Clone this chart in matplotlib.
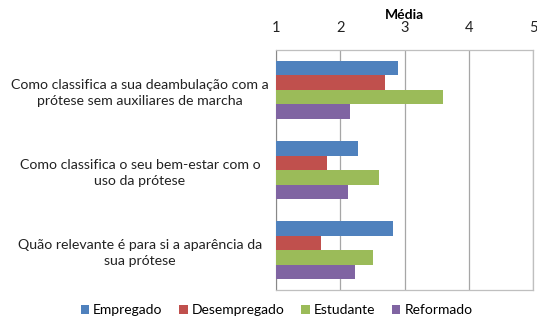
import numpy as np
import matplotlib
matplotlib.use("Agg")
import matplotlib.pyplot as plt

# questions (top to bottom) and group means per employment status
questions = [
    "Como classifica a sua deambulação com a\nprótese sem auxiliares de marcha",
    "Como classifica o seu bem-estar com o\nuso da prótese",
    "Quão relevante é para si a aparência da\nsua prótese",
]
groups = ["Empregado", "Desempregado", "Estudante", "Reformado"]
empregado = [2.89, 2.27, 2.82]
desempregado = [2.70, 1.79, 1.70]
estudante = [3.60, 2.60, 2.51]
reformado = [2.15, 2.12, 2.23]
ticks = [1, 2, 3, 4, 5]

colors = ["#4F81BD", "#C0504D", "#9BBB59", "#8064A2"]
series = [empregado, desempregado, estudante, reformado]

plt.rcParams["font.family"] = ["Lato", "DejaVu Sans"]

fig = plt.figure(figsize=(5.37, 3.22), dpi=100)
ax = fig.add_axes([0.514, 0.099, 0.479, 0.746])

y = np.arange(len(questions))
h = 0.181
for i, (vals, c) in enumerate(zip(series, colors)):
    vals = np.array(vals)
    ax.barh(y + (i - 1.5) * h, vals - 1, left=1, height=h, color=c,
            label=groups[i], zorder=3)

ax.set_xlim(1, 5)
ax.set_ylim(2.5, -0.5)
ax.set_xticks(ticks)
ax.xaxis.tick_top()
ax.xaxis.set_label_position("top")
ax.set_xlabel("Média", fontsize=10, fontweight="bold", labelpad=1)
ax.tick_params(axis="x", length=0, labelsize=10.5, pad=11, colors="#222222")
ax.set_yticks(y)
ax.set_yticklabels(questions, fontsize=10.2, ha="center", color="#222222",
                   linespacing=1.4)
ax.tick_params(axis="y", length=0, pad=98)
ax.grid(axis="x", color="#a6a6a6", linewidth=0.9, zorder=0)

for side in ["top", "right", "bottom"]:
    ax.spines[side].set_color("#bfbfbf")
    ax.spines[side].set_linewidth(0.9)
ax.spines["left"].set_color("#888888")

ax.legend(loc="center", bbox_to_anchor=(0.515, 0.037), bbox_transform=fig.transFigure,
          ncol=4, frameon=False, fontsize=10, handlelength=0.6, handleheight=0.6,
          handletextpad=0.3, columnspacing=1.2)

fig.savefig("out.png", dpi=100)
